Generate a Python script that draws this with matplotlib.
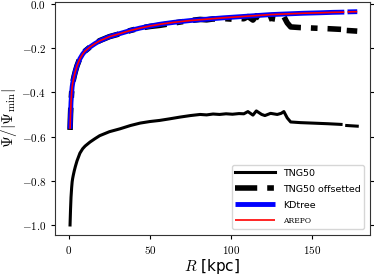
import numpy as np
import matplotlib
matplotlib.use("Agg")
import matplotlib.pyplot as plt
from matplotlib.ticker import FuncFormatter

plt.rcParams['mathtext.fontset'] = 'cm'

# TNG50 potential profile (normalised)
r_tng = [0.7, 1, 1.3, 1.7, 2, 2.3, 2.7, 3.3, 4, 5, 6.8, 8.5, 10, 13, 16, 19,
         25, 31.5, 38, 44, 50, 56, 62, 68.5, 75, 81, 85, 89, 93, 97, 101, 105,
         108, 110.5, 113.6, 115.7, 119, 121, 124.5, 128.6, 131, 132.7, 134.8,
         136.9, 143, 150, 160, 168, 170, 171.5, 178]
psi_tng = [-1.0, -0.93, -0.875, -0.83, -0.805, -0.79, -0.775, -0.755, -0.735,
           -0.71, -0.675, -0.655, -0.643, -0.625, -0.61, -0.596, -0.578,
           -0.565, -0.55, -0.539, -0.532, -0.527, -0.52, -0.512, -0.505,
           -0.50, -0.502, -0.498, -0.50, -0.497, -0.499, -0.496, -0.497,
           -0.487, -0.503, -0.484, -0.50, -0.505, -0.495, -0.50, -0.495,
           -0.487, -0.516, -0.534, -0.537, -0.539, -0.542, -0.545, np.nan,
           -0.55, -0.553]
offset = 0.43

# KDtree / AREPO profiles
r_kd = [0.7, 1, 1.3, 1.7, 2, 2.3, 2.7, 3.3, 4, 5, 6.8, 8.5, 10, 13, 16, 19,
        25, 31.5, 38, 44, 50, 57, 65, 75, 85, 95, 105, 115, 125, 135, 145,
        155, 163, 170, 171, 172, 178]
psi_kdtree = [-0.565, -0.50, -0.445, -0.40, -0.375, -0.36, -0.345, -0.325,
              -0.305, -0.28, -0.248, -0.227, -0.213, -0.195, -0.18, -0.167,
              -0.148, -0.134, -0.12, -0.109, -0.10, -0.091, -0.083, -0.075,
              -0.069, -0.063, -0.058, -0.053, -0.048, -0.045, -0.042, -0.040,
              -0.038, -0.037, np.nan, -0.036, -0.035]
psi_arepo = [-0.565, -0.50, -0.445, -0.40, -0.375, -0.36, -0.345, -0.325,
             -0.305, -0.28, -0.248, -0.227, -0.213, -0.195, -0.18, -0.167,
             -0.148, -0.134, -0.12, -0.109, -0.10, -0.091, -0.083, -0.075,
             -0.069, -0.063, -0.058, -0.053, -0.048, -0.045, -0.042, -0.040,
             -0.038, -0.037, np.nan, -0.036, -0.035]

fig = plt.figure(figsize=(3.74, 2.79), dpi=100)
ax = fig.add_axes([0.147, 0.158, 0.842, 0.835])

psi_off = np.array(psi_tng) + offset
ax.plot(r_tng, psi_tng, color='k', lw=2.2, label='TNG50')
ax.plot(r_tng, psi_off, color='k', lw=4, dashes=(4, 1.8, 1.2, 1.8),
        label='TNG50 offsetted')
ax.plot(r_kd, psi_kdtree, color='blue', lw=3.5, solid_capstyle='butt',
        label='KDtree')
ax.plot(r_kd, psi_arepo, color='red', lw=1.2, solid_capstyle='butt',
        label='AREPO')

ax.set_xlim(-8.6, 185.8)
ax.set_ylim(-1.045, 0.009)
ax.set_xticks([0, 50, 100, 150])
ax.set_yticks([0.0, -0.2, -0.4, -0.6, -0.8, -1.0])
ax.xaxis.set_major_formatter(FuncFormatter(lambda v, p: f'${v:.0f}$'))
ax.yaxis.set_major_formatter(FuncFormatter(lambda v, p: f'${v:.1f}$'))
ax.tick_params(labelsize=8, right=True, length=3, width=0.8)
for s in ax.spines.values():
    s.set_color('#333333')

ax.set_xlabel('$R$ [kpc]', fontsize=11, labelpad=1)
ax.set_ylabel(r'$\Psi/|\Psi_{\min}|$', fontsize=11, labelpad=2)

leg = ax.legend(loc='lower right', fontsize=6.8, handlelength=4.2,
                labelspacing=0.75, borderaxespad=0.6)
leg.get_texts()[3].set_fontfamily('serif')
leg.get_texts()[3].set_fontsize(5.5)

fig.savefig('out.png', dpi=100)
